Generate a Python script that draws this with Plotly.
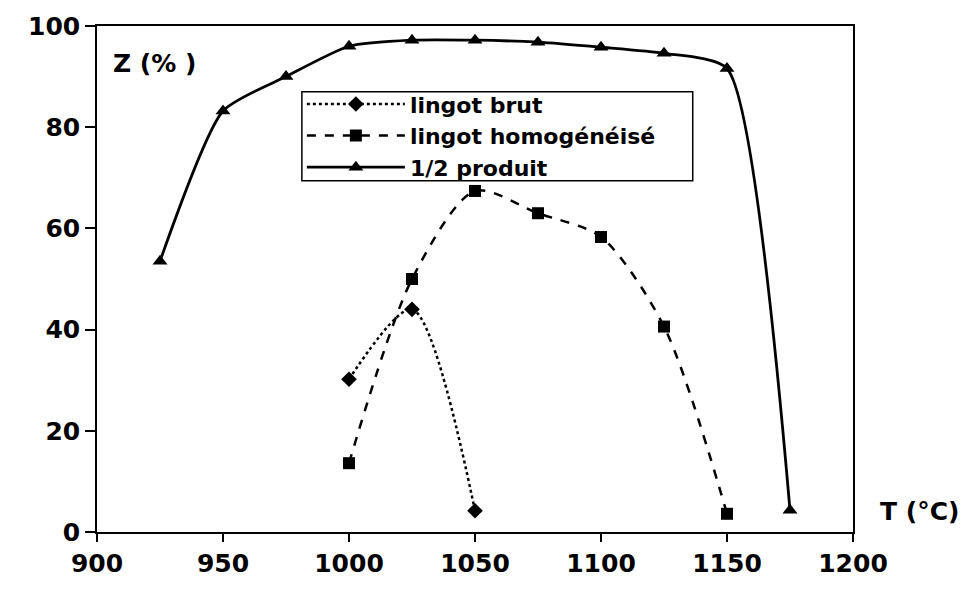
import plotly.graph_objects as go

T_brut = [1000, 1025, 1050]
Z_brut = [30.2, 44.0, 4.2]

T_homo = [1000, 1025, 1050, 1075, 1100, 1125, 1150]
Z_homo = [13.6, 50.0, 67.4, 63.0, 58.3, 40.6, 3.6]

T_demi = [925, 950, 975, 1000, 1025, 1050, 1075, 1100, 1125, 1150, 1175]
Z_demi = [53.5, 83.2, 90.0, 96.0, 97.2, 97.2, 96.8, 95.8, 94.6, 91.6, 4.3]

x_ticks = [900, 950, 1000, 1050, 1100, 1150, 1200]
y_ticks = [0, 20, 40, 60, 80, 100]

FONT = "DejaVu Sans, Liberation Sans, Arial, sans-serif"

fig = go.Figure()
fig.add_trace(go.Scatter(
    x=T_brut, y=Z_brut, name="lingot brut", mode="lines+markers",
    line=dict(color="black", width=2.5, dash="dot", shape="spline", smoothing=0.8),
    marker=dict(symbol="diamond", size=12, color="black")))
fig.add_trace(go.Scatter(
    x=T_homo, y=Z_homo, name="lingot homogénéisé", mode="lines+markers",
    line=dict(color="black", width=2.5, dash="dash", shape="spline", smoothing=0.8),
    marker=dict(symbol="square", size=12, color="black")))
fig.add_trace(go.Scatter(
    x=T_demi, y=Z_demi, name="1/2 produit", mode="lines+markers",
    line=dict(color="black", width=2.8, shape="spline", smoothing=0.6),
    marker=dict(symbol="triangle-up", size=13, color="black")))

fig.update_layout(
    width=967, height=584,
    margin=dict(l=89, r=122, t=18, b=60, autoexpand=False),
    paper_bgcolor="white", plot_bgcolor="white",
    font=dict(family=FONT, color="black"),
    showlegend=True,
    legend=dict(
        x=0.271, y=0.887, xanchor="left", yanchor="top",
        bgcolor="rgba(0,0,0,0)", borderwidth=0,
        font=dict(family=FONT, size=22, color="black", weight="bold"),
        tracegroupgap=0, itemwidth=98,
    ),
    shapes=[
        dict(type="rect", xref="paper", yref="paper",
             x0=0.271, x1=0.788, y0=0.694, y1=0.870,
             line=dict(color="black", width=1.5), fillcolor="rgba(0,0,0,0)",
             layer="above"),
    ],
    xaxis=dict(
        range=[900, 1200], tickvals=x_ticks, ticktext=[str(v) for v in x_ticks],
        showgrid=False, zeroline=False, showline=True, linecolor="black", linewidth=1.5,
        mirror=True, ticks="outside", ticklen=8, tickcolor="black", tickwidth=1.5,
        tickfont=dict(family=FONT, size=25, color="black", weight="bold"),
        automargin=False,
    ),
    yaxis=dict(
        range=[0, 100], tickvals=y_ticks, ticktext=[str(v) for v in y_ticks],
        showgrid=False, zeroline=False, showline=True, linecolor="black", linewidth=1.5,
        mirror=True, ticks="outside", ticklen=10, tickcolor="black", tickwidth=1.5,
        tickfont=dict(family=FONT, size=25, color="black", weight="bold"),
        automargin=False,
    ),
    annotations=[
        dict(text="Z (% )", xref="paper", yref="paper", x=0.018, y=0.925,
             xanchor="left", yanchor="middle", showarrow=False,
             font=dict(family=FONT, size=25, color="black", weight="bold")),
        dict(text="T (°C)", xref="paper", yref="paper", x=1.033, y=0.04,
             xanchor="left", yanchor="middle", showarrow=False,
             font=dict(family=FONT, size=25, color="black", weight="bold")),
    ],
)

fig.write_html("out.html")
